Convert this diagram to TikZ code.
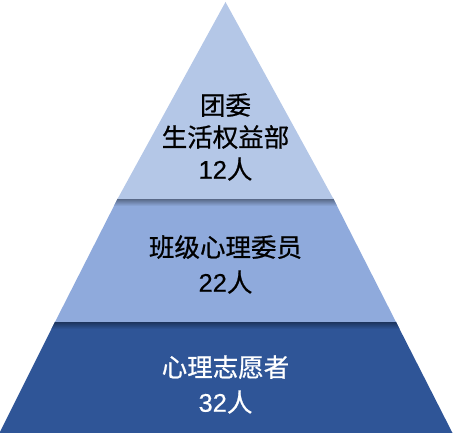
\documentclass[tikz,border=0pt]{standalone}
\usepackage{fontspec}
\newfontfamily\cjk[FakeBold=0.7]{Noto Sans CJK SC}
\newfontfamily\lat[FakeBold=0.4]{Liberation Sans}
\definecolor{lt}{HTML}{B4C7E7}
\definecolor{md}{HTML}{8FAADC}
\definecolor{dk}{HTML}{2F5597}
\tikzset{
  lbl/.style={align=center, inner sep=0pt, font=\cjk\fontsize{25.5}{32}\selectfont},
}
\begin{document}
\begin{tikzpicture}[x=1pt,y=1pt]
\useasboundingbox (0,0) rectangle (453,433);
% bottom layer
\fill[dk] (-0.5,0) -- (452.5,0) -- (396,111) -- (55,111) -- cycle;
\begin{scope}
  \clip (-0.5,0) -- (452.5,0) -- (396,111) -- (55,111) -- cycle;
  \shade[top color=dk!62!black, bottom color=dk] (0,104) rectangle (453,111);
\end{scope}
% middle layer
\fill[md] (55,111) -- (396,111) -- (333.5,234) -- (117.5,234) -- cycle;
\begin{scope}
  \clip (55,111) -- (396,111) -- (333.5,234) -- (117.5,234) -- cycle;
  \shade[top color=md!62!black, bottom color=md] (0,227) rectangle (453,234);
\end{scope}
% top layer
\fill[lt] (117.5,234) -- (333.5,234) -- (225.5,431) -- cycle;
% texts
\node[lbl, text=black] (t1) at (225.5,296) {团委\\生活权益部\\{\lat 12}人};
\node[lbl, text=black] (t2) at (225.5,168.5) {班级心理委员\\[3pt]{\lat 22}人};
\node[lbl, text=white] (t3) at (225.5,48.5) {心理志愿者\\[3pt]{\lat 32}人};
\end{tikzpicture}
\end{document}
